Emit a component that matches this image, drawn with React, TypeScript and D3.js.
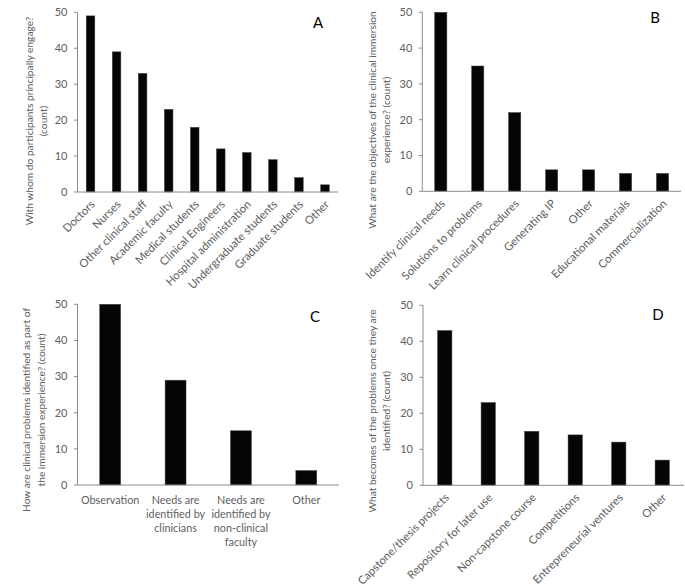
import React from "react";
import * as d3 from "d3";

const catsA = ["Doctors", "Nurses", "Other clinical staff", "Academic faculty", "Medical students", "Clinical Engineers", "Hospital administration", "Undergraduate students", "Graduate students", "Other"];
const valsA = [49, 39, 33, 23, 18, 12, 11, 9, 4, 2];
const catsB = ["Identify clinical needs", "Solutions to problems", "Learn clinical procedures", "Generating IP", "Other", "Educational materials", "Commercialization"];
const valsB = [50, 35, 22, 6, 6, 5, 5];
const catsC = ["Observation", "Needs are identified by clinicians", "Needs are identified by non-clinical faculty", "Other"];
const catsCLines = [["Observation"], ["Needs are", "identified by", "clinicians"], ["Needs are", "identified by", "non-clinical", "faculty"], ["Other"]];
const valsC = [50, 29, 15, 4];
const catsD = ["Capstone/thesis projects", "Repository for later use", "Non-capstone course", "Competitions", "Entrepreneurial ventures", "Other"];
const valsD = [43, 23, 15, 14, 12, 7];
const yTicks = [0, 10, 20, 30, 40, 50];

const FONT = "Lato, 'Liberation Sans', sans-serif";
const GRAY = "#606060";
const AXIS = "#8c8c8c";

type PanelProps = {
  cats: string[];
  vals: number[];
  letter: string;
  title: string[];
  band: [number, number];
  y: [number, number];
  pad: number;
  letterPos: [number, number];
  titleX: [number, number];
  titleY: number;
  rotated: boolean;
  lines?: string[][];
};

function Panel(p: PanelProps) {
  const x = d3.scaleBand<string>().domain(p.cats).range(p.band).paddingInner(p.pad).paddingOuter(p.pad / 2);
  const y = d3.scaleLinear().domain([0, 50]).range(p.y);
  const y0 = y(0);
  const ax = p.band[0];
  return (
    <g>
      {p.vals.map((v, i) => (
        <rect key={i} x={x(p.cats[i])} y={y(v)} width={x.bandwidth()} height={y0 - y(v)} fill="#050505" stroke="#444" strokeWidth={0.5} />
      ))}
      <line x1={ax} x2={ax} y1={y(50)} y2={y0} stroke={AXIS} strokeWidth={1} />
      <line x1={ax} x2={p.band[1]} y1={y0} y2={y0} stroke={AXIS} strokeWidth={1} />
      {yTicks.map((t) => (
        <g key={t}>
          <line x1={ax - 3.5} x2={ax} y1={y(t)} y2={y(t)} stroke={AXIS} />
          <text x={ax - 10} y={y(t)} dy="0.35em" textAnchor="end" fontSize={11} fill={GRAY} fontFamily={FONT}>{t}</text>
        </g>
      ))}
      {p.rotated
        ? p.cats.map((c) => {
            const cx = (x(c) as number) + x.bandwidth() / 2 + 5;
            const cy = y0 + 13;
            return (
              <text key={c} x={cx} y={cy} textAnchor="end" fontSize={11.3} fill={GRAY} fontFamily={FONT} transform={`rotate(-45,${cx},${cy})`}>{c}</text>
            );
          })
        : p.cats.map((c, i) => {
            const cx = (x(c) as number) + x.bandwidth() / 2;
            return (
              <text key={c} x={cx} y={y0 + 19} textAnchor="middle" fontSize={10.8} fill={GRAY} fontFamily={FONT}>
                {(p.lines as string[][])[i].map((l, k) => (
                  <tspan key={k} x={cx} dy={k === 0 ? 0 : 14}>{l}</tspan>
                ))}
              </text>
            );
          })}
      {p.title.map((t, k) => (
        <text key={k} x={p.titleX[k]} y={p.titleY} textAnchor="middle" fontSize={10.2} fill={GRAY} fontFamily={FONT} transform={`rotate(-90,${p.titleX[k]},${p.titleY})`} dy="0.35em">{t}</text>
      ))}
      <text x={p.letterPos[0]} y={p.letterPos[1]} textAnchor="middle" dy="0.35em" fontSize={15} fill="#000" fontFamily={FONT}>{p.letter}</text>
    </g>
  );
}

export default function App() {
  return (
    <svg width={685} height={588} style={{ display: "block", position: "absolute", left: 0, top: 0, background: "#fff" }}>
      <Panel cats={catsA} vals={valsA} letter="A" title={["With whom do participants principally engage?", "(count)"]}
        band={[77.5, 338]} y={[192, 12.3]} pad={0.67} letterPos={[318, 23]} titleX={[29, 43]} titleY={121} rotated />
      <Panel cats={catsB} vals={valsB} letter="B" title={["What are the objectives of the clinical immersion", "experience? (count)"]}
        band={[422.3, 681]} y={[191.3, 12.3]} pad={0.67} letterPos={[655, 18]} titleX={[372, 386]} titleY={120} rotated />
      <Panel cats={catsC} vals={valsC} letter="C" title={["How are clinical problems identified as part of", "the immersion experience? (count)"]}
        band={[77.5, 339]} y={[485, 304.3]} pad={0.68} letterPos={[315, 317]} titleX={[26, 41]} titleY={410} rotated={false} lines={catsCLines} />
      <Panel cats={catsD} vals={valsD} letter="D" title={["What becomes of the problems once they are", "identified? (count)"]}
        band={[423, 684]} y={[485.3, 305.3]} pad={0.67} letterPos={[658, 315]} titleX={[372, 386]} titleY={411} rotated />
    </svg>
  );
}
